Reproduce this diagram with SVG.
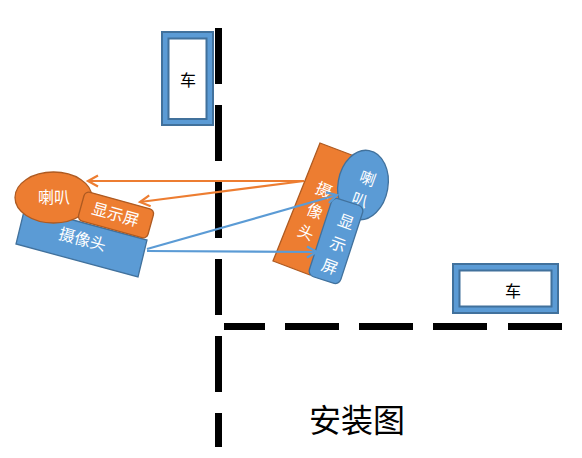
<svg xmlns="http://www.w3.org/2000/svg" width="582" height="458" viewBox="0 0 582 458">
<style>
text{font-family:"Noto Sans CJK SC","Noto Sans",sans-serif;text-anchor:middle}
.b{fill:#5B9BD5;stroke:#41719C;stroke-width:1.3}
.o{fill:#ED7D31;stroke:#AE5A21;stroke-width:1.3}
.w{fill:#fff;font-size:16px}
.k{fill:#000;font-size:16px}
.wall{fill:none;stroke:#000;stroke-width:7}
.cf{fill:#5B9BD5;stroke:#41719C;stroke-width:2;fill-rule:evenodd}
.lo{fill:none;stroke:#ED7D31;stroke-width:2.2;marker-end:url(#ao)}
.lb{fill:none;stroke:#5B9BD5;stroke-width:2.2;marker-end:url(#ab)}
.v{writing-mode:vertical-rl}
</style>
<defs>
<marker id="ao" markerUnits="userSpaceOnUse" markerWidth="14" markerHeight="14" refX="11" refY="7" orient="auto"><path d="M1 1.500L11 7L1 12.500" fill="none" stroke="#ED7D31" stroke-width="2.200"/></marker>
<marker id="ab" markerUnits="userSpaceOnUse" markerWidth="14" markerHeight="14" refX="11" refY="7" orient="auto"><path d="M1 1.500L11 7L1 12.500" fill="none" stroke="#5B9BD5" stroke-width="2.200"/></marker>
</defs>
<rect width="582" height="458" fill="#fff"/>
<g id="walls">
<path class="wall" d="M218.500 28V84M218.500 105V161M218.500 182V238M218.500 259V315M218.500 336V392M218.500 413V447"/>
<path class="wall" d="M224 326.500H265M285 326.500H339M359 326.500H413M433 326.500H487M508 326.500H562"/>
</g>
<g id="car1">
<path class="cf" d="M162 32H213V125H162ZM168.500 38.500V119H206.500V38.500Z"/>
<text class="k" x="188" y="86">车</text>
</g>
<g id="car2">
<path class="cf" d="M453 264H558V313H453ZM459.500 270.500V306.500H551.500V270.500Z"/>
<text class="k" x="513" y="297">车</text>
</g>
<g id="right-camera">
<polygon class="o" points="320,143 357,157 310,275 273,261"/>
<text class="w v" transform="translate(315 211) rotate(23)" x="0" y="3.500" style="letter-spacing:7px">摄像头</text>
</g>
<g id="connectors-orange">
<path class="lo" d="M304 181L88 181"/>
<path class="lo" d="M304 181L140 202"/>
</g>
<g id="left-camera">
<polygon class="b" points="25,207 147,240 138,277 16,244"/>
<text class="w" transform="translate(81 245) rotate(15)">摄像头</text>
</g>
<g id="left-speaker">
<ellipse class="o" cx="53.500" cy="197.500" rx="38.500" ry="25.500"/>
<text class="w" x="54" y="203">喇叭</text>
</g>
<g id="left-display">
<rect class="o" x="80" y="200" width="72" height="30" rx="5" transform="rotate(15.500 116 215)"/>
<text class="w" transform="translate(114 220) rotate(15.500)">显示屏</text>
</g>
<g id="right-speaker">
<ellipse class="b" cx="363" cy="185" rx="25" ry="35" transform="rotate(10 363 185)"/>
<text class="w v" transform="translate(364 189) rotate(20)" x="0" y="3.500" style="letter-spacing:7px">喇叭</text>
</g>
<g id="right-display">
<rect class="b" x="319.500" y="200" width="33" height="82" rx="6" transform="rotate(18 336 241)"/>
<text class="w v" transform="translate(338 244) rotate(20)" x="0" y="4" style="letter-spacing:8px">显示屏</text>
</g>
<g id="connectors-blue">
<path class="lb" d="M147 249L337 195"/>
<path class="lb" d="M147 251L317 252"/>
</g>
<g id="title">
<text x="357" y="432" style="font-size:32px;fill:#000">安装图</text>
</g>
</svg>
